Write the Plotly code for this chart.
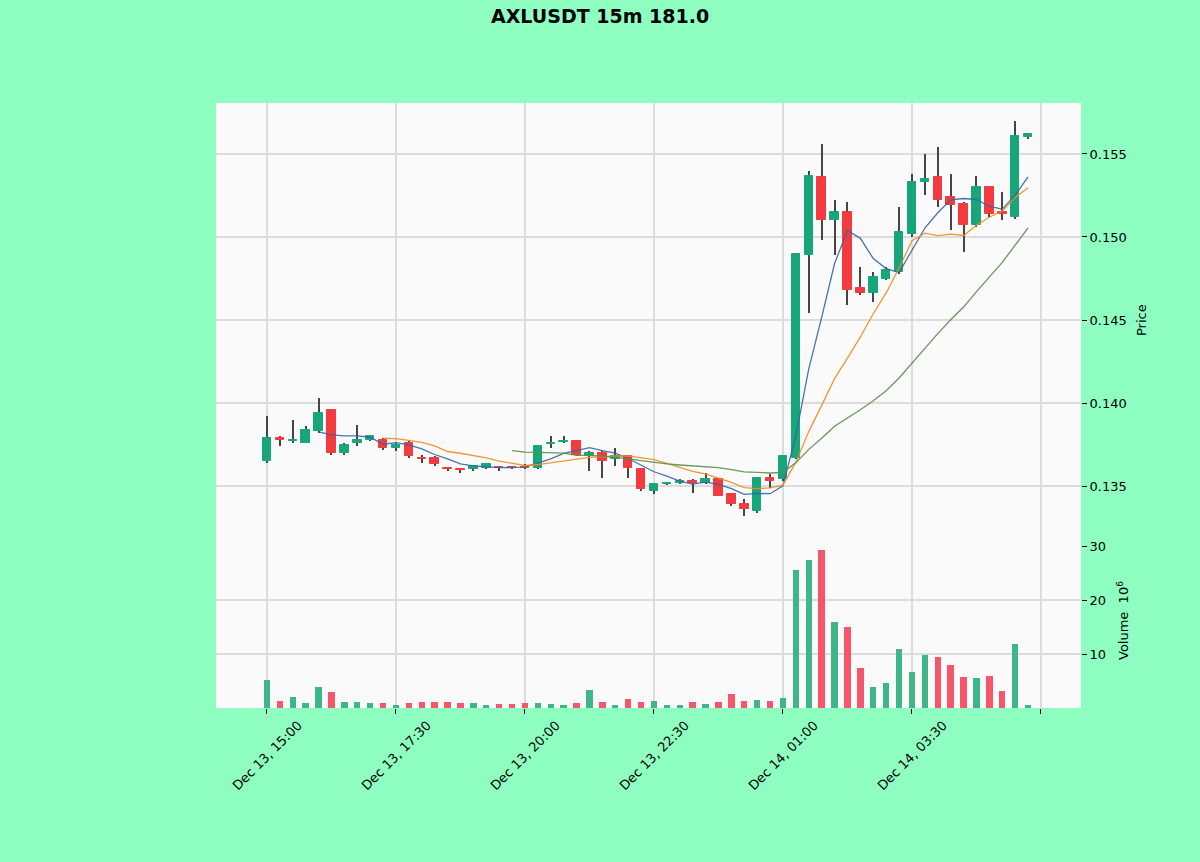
import pandas as pd
import plotly.graph_objects as go

# 15m candles, Dec 13 15:00 -> Dec 14 05:45 (60 bars)
opens = [0.1365, 0.1379, 0.1377, 0.1376, 0.1383, 0.1396, 0.1370, 0.1376, 0.1378, 0.1378,
         0.1373, 0.1376, 0.1367, 0.1367, 0.1361, 0.13603, 0.1360, 0.1361, 0.13614, 0.13614,
         0.13614, 0.1361, 0.13752, 0.13765, 0.1377, 0.1368, 0.1370, 0.1366, 0.1368, 0.1360,
         0.1347, 0.1351, 0.1352, 0.1353, 0.1352, 0.1354, 0.1345, 0.1339, 0.1335, 0.1355,
         0.1354, 0.1367, 0.1489, 0.1536, 0.1510, 0.1515, 0.1469, 0.1466, 0.1475, 0.1479,
         0.1502, 0.1533, 0.1536, 0.1524, 0.1520, 0.1507, 0.1530, 0.1515, 0.1512, 0.1560]
highs = [0.1392, 0.1380, 0.1390, 0.1386, 0.1403, 0.1396, 0.1376, 0.1387, 0.1381, 0.1379,
         0.1376, 0.1377, 0.1369, 0.1368, 0.1361, 0.1361, 0.1362, 0.1364, 0.1362, 0.1362,
         0.1363, 0.1374, 0.1380, 0.1380, 0.1378, 0.1371, 0.1371, 0.1373, 0.1369, 0.1360,
         0.1352, 0.1352, 0.1354, 0.1354, 0.1358, 0.1355, 0.1346, 0.1342, 0.1355, 0.1357,
         0.1368, 0.1490, 0.1540, 0.1556, 0.1522, 0.1521, 0.1482, 0.1479, 0.1482, 0.1518,
         0.1538, 0.1550, 0.1554, 0.1538, 0.1521, 0.1537, 0.1531, 0.1527, 0.1570, 0.1562]
lows = [0.1364, 0.1374, 0.1376, 0.1376, 0.1382, 0.1369, 0.1369, 0.1374, 0.1377, 0.1372,
        0.1371, 0.1367, 0.1364, 0.1362, 0.1359, 0.1358, 0.1359, 0.1360, 0.1359, 0.1360,
        0.1360, 0.1360, 0.1373, 0.1376, 0.1368, 0.1359, 0.1355, 0.1362, 0.1355, 0.1347,
        0.1345, 0.1351, 0.1351, 0.1346, 0.1351, 0.1344, 0.1338, 0.1332, 0.1334, 0.1349,
        0.1353, 0.1366, 0.1454, 0.1498, 0.1489, 0.1459, 0.1465, 0.1461, 0.1474, 0.1478,
        0.1500, 0.1525, 0.1518, 0.1504, 0.1491, 0.1506, 0.1512, 0.1510, 0.1511, 0.1559]
closes = [0.1379, 0.1378, 0.1378, 0.1384, 0.1394, 0.1370, 0.1375, 0.1378, 0.1380, 0.1373,
          0.1375, 0.1368, 0.1366, 0.1363, 0.1360, 0.13595, 0.1362, 0.1363, 0.13608, 0.13607,
          0.13607, 0.1374, 0.13758, 0.1377, 0.1369, 0.1370, 0.1365, 0.1368, 0.1361, 0.1348,
          0.1351, 0.1352, 0.1353, 0.1352, 0.1354, 0.1344, 0.1339, 0.1336, 0.1355, 0.1353,
          0.1368, 0.1490, 0.1537, 0.1510, 0.1515, 0.1468, 0.1466, 0.1476, 0.1480, 0.1503,
          0.1533, 0.1535, 0.1522, 0.1519, 0.1507, 0.1530, 0.1514, 0.1514, 0.1561, 0.1562]
# volume in millions
volumes = [5.2, 1.3, 2.1, 0.9, 3.8, 2.9, 1.05, 1.1, 0.9, 1.0,
           0.6, 1.0, 1.1, 1.05, 1.05, 0.9, 1.0, 0.6, 0.8, 0.8,
           0.95, 1.0, 0.75, 0.6, 1.0, 3.3, 1.1, 0.6, 1.6, 1.2,
           1.3, 0.5, 0.6, 1.2, 0.74, 1.17, 2.6, 1.3, 1.48, 1.36,
           1.9, 25.6, 27.4, 29.3, 16.0, 15.1, 7.5, 3.95, 4.7, 10.9,
           6.7, 9.8, 9.5, 8.0, 5.8, 5.5, 5.9, 3.2, 11.85, 0.5]

tick_pos = [0, 10, 20, 30, 40, 50, 60]
tick_labels = ["Dec 13, 15:00", "Dec 13, 17:30", "Dec 13, 20:00", "Dec 13, 22:30",
               "Dec 14, 01:00", "Dec 14, 03:30", ""]
price_ticks = [0.135, 0.140, 0.145, 0.150, 0.155]
vol_ticks = [10, 20, 30]

UP, DOWN = "#16a679", "#f23a3f"
VUP, VDOWN = "#3fb58a", "#f5566a"

df = pd.DataFrame({"open": opens, "high": highs, "low": lows,
                   "close": closes, "volume": volumes})
df["i"] = range(len(df))
up = df["close"] >= df["open"]
body_base = df[["open", "close"]].min(axis=1)
body_h = (df["close"] - df["open"]).abs().clip(lower=0.00005)
cols = [UP if u else DOWN for u in up]
vcols = [VUP if u else VDOWN for u in up]

fig = go.Figure()

# wicks
fig.add_trace(go.Bar(x=df["i"], y=df["high"] - df["low"], base=df["low"],
                     width=0.08, marker=dict(color="#454545", line_width=0),
                     xaxis="x", yaxis="y", showlegend=False))
# bodies
fig.add_trace(go.Bar(x=df["i"], y=body_h, base=body_base, width=0.66,
                     marker=dict(color=cols, line=dict(color=cols, width=1)),
                     xaxis="x", yaxis="y", showlegend=False))

# moving averages
for n, c in [(5, "#3566a8"), (10, "#f28c1e"), (20, "#5a8f4a")]:
    ma = df["close"].rolling(n).mean()
    fig.add_trace(go.Scatter(x=df["i"], y=ma, mode="lines",
                             line=dict(color=c, width=1.3), opacity=0.9,
                             xaxis="x", yaxis="y", showlegend=False))

# volume
fig.add_trace(go.Bar(x=df["i"], y=df["volume"], width=0.5,
                     marker=dict(color=vcols, line_width=0),
                     xaxis="x2", yaxis="y2", showlegend=False))

xr = [-3.95, 63.1]
grid = dict(showgrid=True, gridcolor="#dcdcdc", gridwidth=1.5, zeroline=False,
            automargin=False)
tickfont = dict(family="DejaVu Sans", size=13, color="black")

fig.update_layout(
    width=1200, height=862,
    margin=dict(l=0, r=0, t=0, b=0, autoexpand=False),
    paper_bgcolor="#8effc1", plot_bgcolor="#fafafa",
    barmode="overlay", bargap=0,
    font=dict(family="DejaVu Sans", size=13, color="black"),
    xaxis=dict(domain=[0.18, 0.9008], range=xr, anchor="y",
               tickvals=tick_pos, showticklabels=False, ticks="", **grid),
    xaxis2=dict(domain=[0.18, 0.9008], range=xr, anchor="y2", matches="x",
                tickvals=tick_pos, showticklabels=False, ticks="outside",
                ticklen=5, tickcolor="black", **grid),
    yaxis=dict(domain=[0.3666, 0.8805], range=[0.13139, 0.15807], anchor="x",
               side="right", tickvals=price_ticks, tickformat=".3f",
               ticks="outside", ticklen=5, tickcolor="black", tickfont=tickfont,
               **grid),
    yaxis2=dict(domain=[0.1787, 0.3666], range=[0, 30.06], anchor="x2",
                side="right", tickvals=vol_ticks, ticks="outside", ticklen=5,
                tickcolor="black", tickfont=tickfont, **grid),
)

# title
fig.add_annotation(x=0.5, y=1 - 16 / 862, xref="paper", yref="paper",
                   xanchor="center", yanchor="middle", showarrow=False,
                   text="<b>AXLUSDT 15m 181.0</b>",
                   font=dict(family="DejaVu Sans", size=19, color="black"))

# rotated date labels centred on their ticks
for p, t in zip(tick_pos, tick_labels):
    if t:
        fig.add_annotation(x=p, xref="x2", y=1 - 755 / 862, yref="paper",
                           xanchor="center", yanchor="middle",
                           text=t, textangle=-45, showarrow=False,
                           font=tickfont)

fig.add_annotation(x=1141 / 1200, y=1 - 320 / 862, xref="paper", yref="paper",
                   xanchor="center", yanchor="middle",
                   text="Price", textangle=-90, showarrow=False, font=tickfont)
fig.add_annotation(x=1123 / 1200, y=1 - 621 / 862, xref="paper", yref="paper",
                   xanchor="center", yanchor="middle",
                   text="Volume  10<sup>6</sup>", textangle=-90, showarrow=False,
                   font=tickfont)

fig.write_html("out.html", config={"displayModeBar": False},
               post_script="document.body.style.margin='0';")
